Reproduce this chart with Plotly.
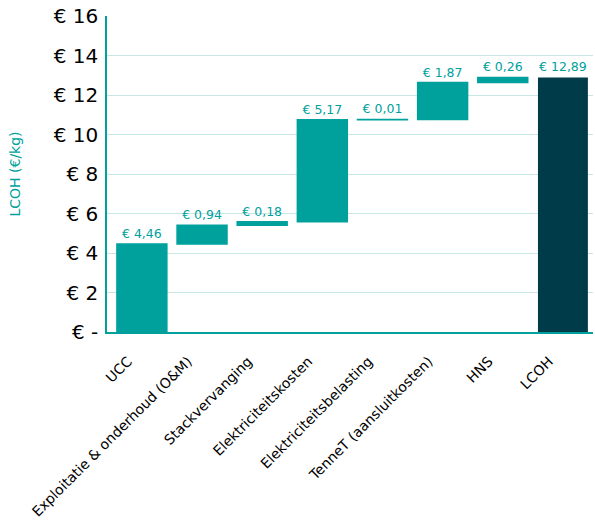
import plotly.graph_objects as go

categories = ["UCC", "Exploitatie & onderhoud (O&M)", "Stackvervanging", "Elektriciteitskosten",
              "Elektriciteitsbelasting", "TenneT (aansluitkosten)", "HNS", "LCOH"]
values = [4.46, 0.94, 0.18, 5.17, 0.01, 1.87, 0.26, 12.89]
measures = ["relative"] * 7 + ["total"]
tick_vals = [0, 2, 4, 6, 8, 10, 12, 14, 16]
tick_text = ["€ -", "€ 2", "€ 4", "€ 6", "€ 8", "€ 10", "€ 12", "€ 14", "€ 16"]

TEAL = "#00A19D"
DARK = "#003B4A"

labels = ["€ " + f"{v:.2f}".replace(".", ",") for v in values]
wf_vals = values[:-1] + [0]

fig = go.Figure(go.Waterfall(
    x=categories,
    y=wf_vals,
    measure=measures,
    text=labels,
    textposition="outside",
    textfont=dict(color=TEAL, size=12.5, family="DejaVu Sans"),
    increasing=dict(marker=dict(color=TEAL, line=dict(color=TEAL, width=1.5))),
    decreasing=dict(marker=dict(color=TEAL)),
    totals=dict(marker=dict(color=DARK, line=dict(color=DARK, width=0))),
    connector=dict(visible=False),
    width=0.83,
    cliponaxis=False,
))

fig.update_layout(
    width=595, height=521,
    margin=dict(l=107, r=2, t=16, b=189),
    plot_bgcolor="white", paper_bgcolor="white",
    font=dict(family="DejaVu Sans", color="black"),
    showlegend=False,
    xaxis=dict(
        range=[-0.58, 7.5],
        tickangle=-45, tickfont=dict(size=14, color="black"),
        showline=True, linecolor=TEAL, linewidth=1.5,
        showgrid=False, ticks="", automargin=False,
        ticklabelshift=-14, ticklabelstandoff=14,
    ),
    yaxis=dict(
        range=[0, 16], tickvals=tick_vals, ticktext=tick_text,
        tickfont=dict(size=20, color="black"),
        showline=True, linecolor=TEAL, linewidth=1.5,
        gridcolor="#C8E6E4", gridwidth=1, zeroline=False, ticks="",
        ticklabelstandoff=3, automargin=False,
        title=dict(text="LCOH (€/kg)", font=dict(size=14, color=TEAL), standoff=30),
    ),
)

fig.write_html("out.html")
